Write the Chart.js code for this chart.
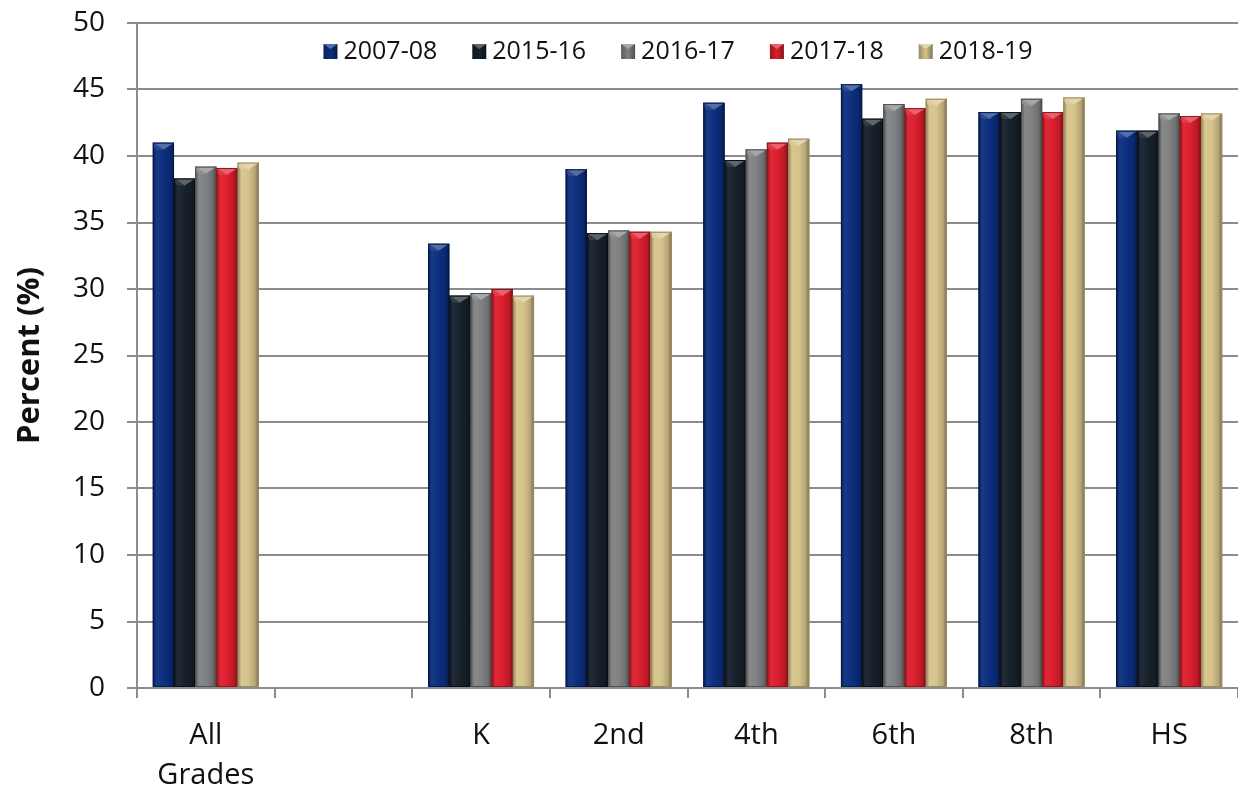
<!DOCTYPE html>
<html>
<head>
<meta charset="utf-8">
<script src="https://cdn.jsdelivr.net/npm/chart.js@4/dist/chart.umd.min.js"></script>
<style>
html,body{margin:0;padding:0;background:#fff;}
#wrap{width:1238px;height:793px;position:relative;}
</style>
</head>
<body>
<div id="wrap"><canvas id="c" width="1238" height="793"></canvas></div>
<script>
const categories = [["All", "Grades"], "", "K", "2nd", "4th", "6th", "8th", "HS"];
const seriesNames = ["2007-08", "2015-16", "2016-17", "2017-18", "2018-19"];
const s2007_08 = [41.0, null, 33.4, 39.0, 44.0, 45.4, 43.3, 41.9];
const s2015_16 = [38.3, null, 29.5, 34.2, 39.7, 42.8, 43.3, 41.9];
const s2016_17 = [39.2, null, 29.7, 34.4, 40.5, 43.9, 44.3, 43.2];
const s2017_18 = [39.1, null, 30.0, 34.3, 41.0, 43.6, 43.3, 43.0];
const s2018_19 = [39.5, null, 29.5, 34.3, 41.3, 44.3, 44.4, 43.2];
const yTicks = [0, 5, 10, 15, 20, 25, 30, 35, 40, 45, 50];

const colors = ["#0c2f80", "#17212b", "#808284", "#dc1f2d", "#d6c38c"];
const borders = ["#06184a", "#0a0f14", "#4d4e50", "#8e1219", "#9c8c5c"];
const allSeries = [s2007_08, s2015_16, s2016_17, s2017_18, s2018_19];

const FONT = "'Open Sans', 'Noto Sans', sans-serif";

function shade(hex, amt) {
  const n = parseInt(hex.slice(1), 16);
  let r = (n >> 16) & 255, g = (n >> 8) & 255, b = n & 255;
  const f = v => Math.max(0, Math.min(255, Math.round(amt >= 0 ? v + (255 - v) * amt : v * (1 + amt))));
  return "rgb(" + f(r) + "," + f(g) + "," + f(b) + ")";
}

const bevelPlugin = {
  id: 'bevel',
  afterDatasetsDraw(chart) {
    const ctx = chart.ctx;
    chart.data.datasets.forEach((ds, di) => {
      const meta = chart.getDatasetMeta(di);
      meta.data.forEach((bar, i) => {
        if (ds.data[i] == null) return;
        const p = bar.getProps(['x', 'y', 'base', 'width'], true);
        const l = p.x - p.width / 2, r = p.x + p.width / 2, t = p.y, b = p.base;
        const base = colors[di];
        ctx.save();
        const g = ctx.createLinearGradient(l, 0, r, 0);
        g.addColorStop(0, shade(base, -0.35));
        g.addColorStop(0.18, shade(base, 0.05));
        g.addColorStop(0.5, base);
        g.addColorStop(0.82, shade(base, -0.15));
        g.addColorStop(1, shade(base, -0.45));
        ctx.fillStyle = g;
        ctx.fillRect(l, t, r - l, b - t);
        const h = Math.min(7, (b - t) / 2);
        ctx.beginPath();
        ctx.moveTo(l, t); ctx.lineTo(r, t); ctx.lineTo(p.x, t + h); ctx.closePath();
        ctx.fillStyle = shade(base, 0.3);
        ctx.fill();
        ctx.beginPath();
        ctx.moveTo(l, t); ctx.lineTo(p.x, t + h); ctx.lineTo(l + 3, t + h); ctx.lineTo(l, t + 2); ctx.closePath();
        ctx.fillStyle = shade(base, 0.12);
        ctx.fill();
        ctx.strokeStyle = borders[di];
        ctx.lineWidth = 1;
        ctx.strokeRect(l + 0.5, t + 0.5, r - l - 1, b - t - 1);
        ctx.restore();
      });
    });
  }
};

const legendPlugin = {
  id: 'customLegend',
  afterDraw(chart) {
    const ctx = chart.ctx;
    ctx.save();
    ctx.font = "25px " + FONT;
    ctx.textBaseline = 'middle';
    const box = 14, gapBoxText = 6, gapItems = 35;
    const widths = seriesNames.map(n => ctx.measureText(n).width);
    let total = 0;
    widths.forEach((w, i) => { total += box + gapBoxText + w + (i < widths.length - 1 ? gapItems : 0); });
    let x = 678 - total / 2;
    const y = 51;
    seriesNames.forEach((n, i) => {
      const base = colors[i];
      const g = ctx.createLinearGradient(x, 0, x + box, 0);
      g.addColorStop(0, shade(base, -0.3));
      g.addColorStop(0.5, base);
      g.addColorStop(1, shade(base, -0.4));
      ctx.fillStyle = g;
      ctx.fillRect(x, y - 7, box, 15);
      ctx.beginPath();
      ctx.moveTo(x, y - 7); ctx.lineTo(x + box, y - 7); ctx.lineTo(x + box / 2, y - 2); ctx.closePath();
      ctx.fillStyle = shade(base, 0.3);
      ctx.fill();
      ctx.fillStyle = '#111';
      ctx.fillText(n, x + box + gapBoxText, y + 1);
      x += box + gapBoxText + widths[i] + gapItems;
    });
    ctx.restore();
  }
};

const datasets = seriesNames.map((name, i) => ({
  label: name,
  data: allSeries[i],
  backgroundColor: colors[i],
  borderColor: borders[i],
  borderWidth: 0,
  barPercentage: 1.0,
  categoryPercentage: 0.77
}));

new Chart(document.getElementById('c'), {
  type: 'bar',
  data: { labels: categories, datasets: datasets },
  options: {
    responsive: false,
    animation: false,
    devicePixelRatio: 1,
    layout: { padding: { top: 0, right: 0, bottom: 0, left: 0 } },
    plugins: {
      legend: { display: false },
      tooltip: { enabled: false }
    },
    scales: {
      x: {
        grid: {
          display: true,
          offset: true,
          drawOnChartArea: false,
          drawTicks: true,
          tickLength: 10,
          color: '#8c8c8c',
          lineWidth: 2
        },
        border: { display: true, color: '#8c8c8c', width: 2 },
        ticks: {
          font: { family: FONT, size: 29, lineHeight: 1.38 },
          color: '#111',
          padding: 18,
          maxRotation: 0,
          autoSkip: false
        },
        afterFit(scale) { scale.height = 105; scale.paddingLeft = 0; scale.paddingRight = 0; }
      },
      y: {
        min: 0,
        max: 50,
        afterBuildTicks(scale) { scale.ticks = yTicks.map(v => ({ value: v })); },
        grid: {
          display: true,
          drawOnChartArea: true,
          tickLength: 10,
          color: '#8c8c8c',
          lineWidth: 2
        },
        border: { display: true, color: '#8c8c8c', width: 2 },
        ticks: {
          font: { family: FONT, size: 28 },
          color: '#111',
          padding: 22
        },
        title: {
          display: true,
          text: 'Percent (%)',
          font: { family: FONT, size: 31, weight: 'bold' },
          color: '#111',
          padding: { top: 12, bottom: 0 }
        },
        afterFit(scale) { scale.width = 137; scale.paddingTop = 23; scale.paddingBottom = 0; }
      }
    }
  },
  plugins: [bevelPlugin, legendPlugin]
});
</script>
</body>
</html>
